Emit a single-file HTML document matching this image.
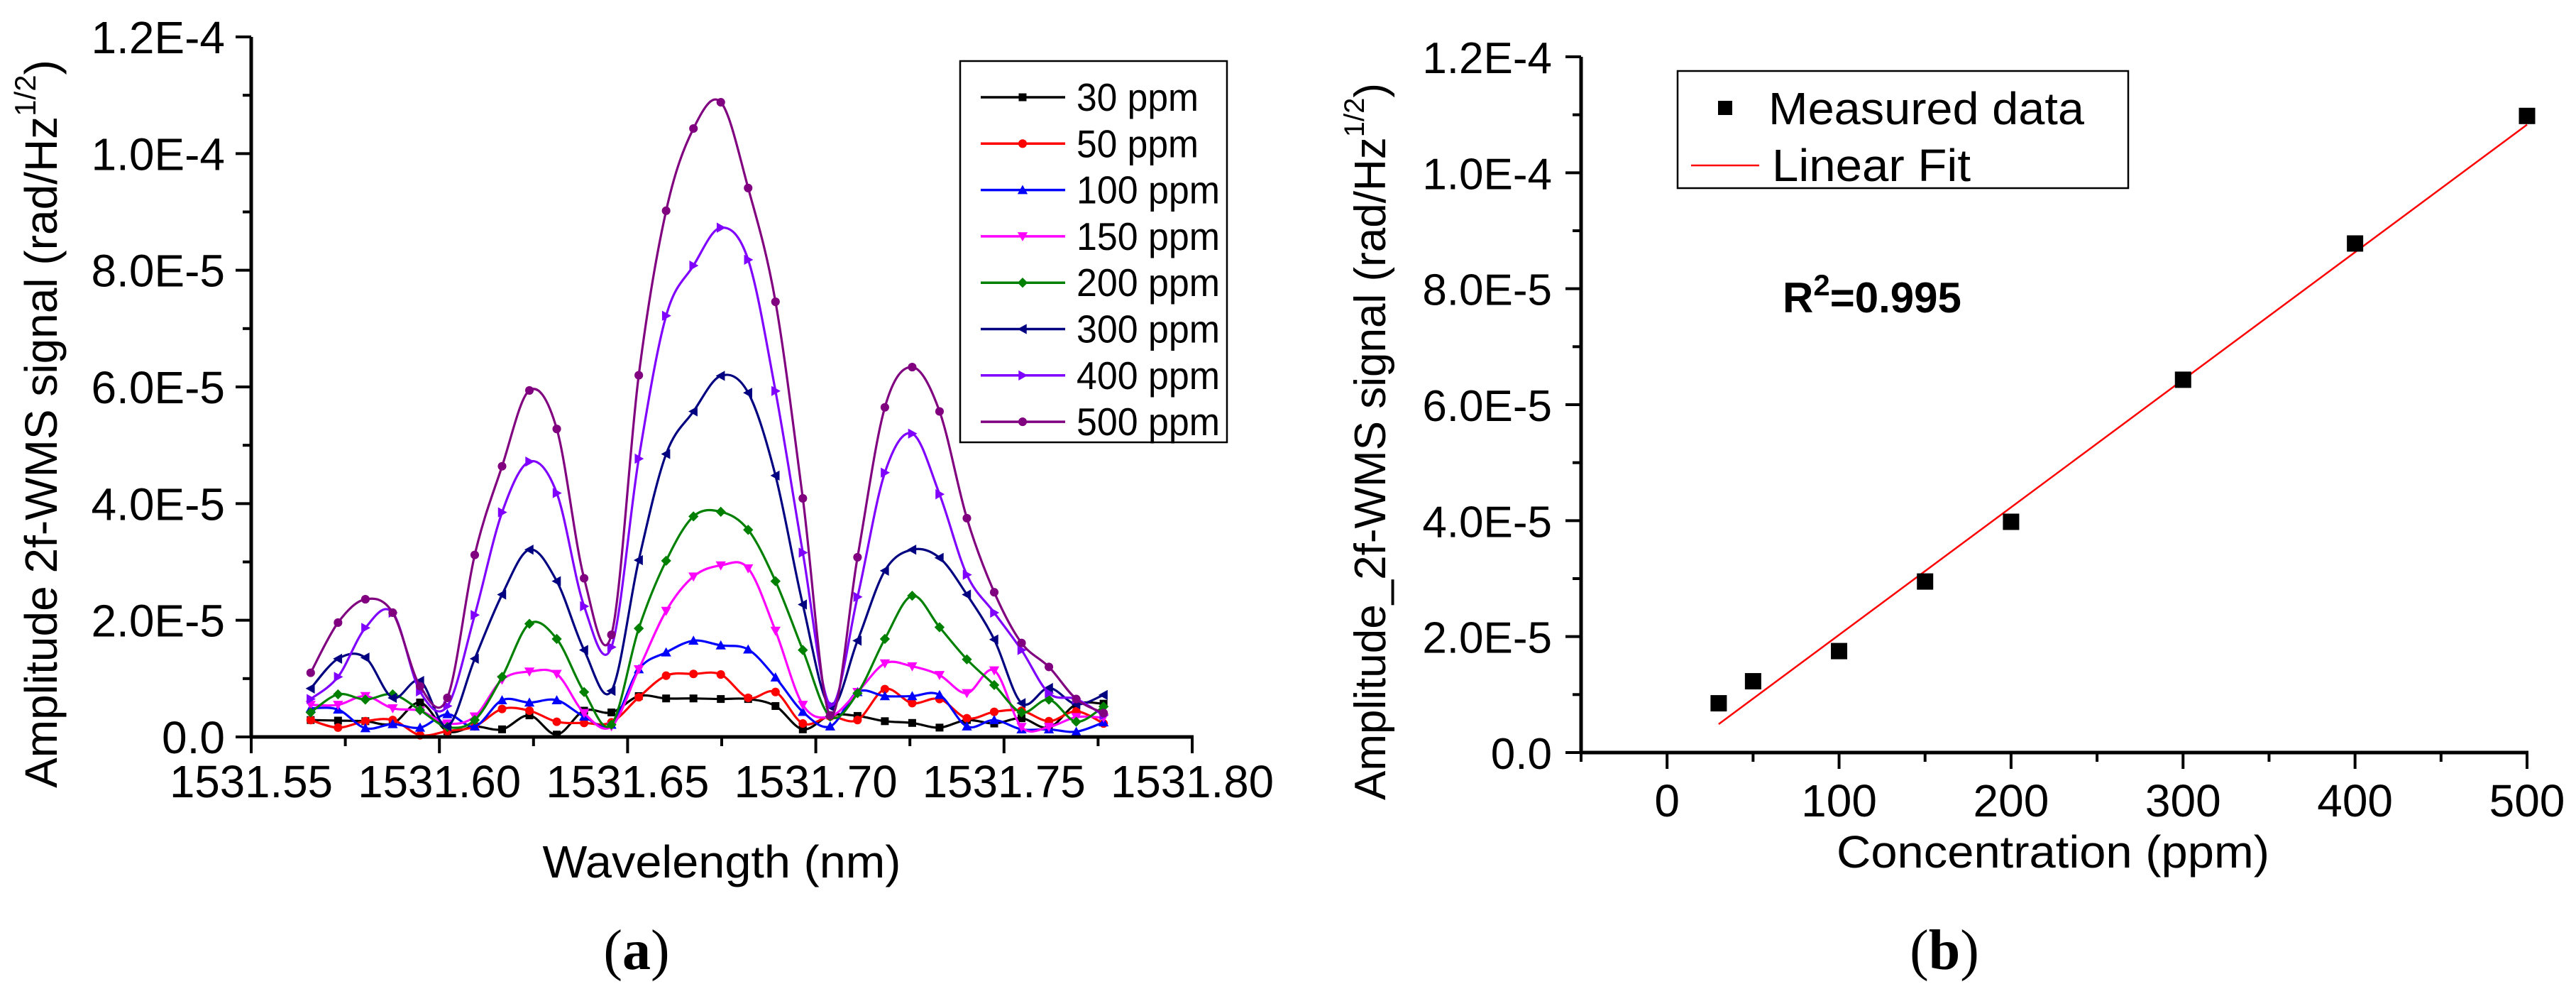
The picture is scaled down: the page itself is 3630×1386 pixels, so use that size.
<!DOCTYPE html>
<html><head><meta charset="utf-8">
<style>
html,body{margin:0;padding:0;background:#fff;}
svg{display:block;}
text{font-family:"Liberation Sans",Arial,sans-serif;fill:#000;}
</style></head>
<body>
<svg id="fig" xmlns="http://www.w3.org/2000/svg" width="3630" height="1386" viewBox="0 0 3630 1386">
<rect width="3630" height="1386" fill="#fff"/>
<g id="chartA"></g>
<g id="chartB"></g>
</svg>
<script>
// ---------- Chart (a) data ----------
const seriesNames = ["30 ppm","50 ppm","100 ppm","150 ppm","200 ppm","300 ppm","400 ppm","500 ppm"];
const seriesColors = ["#000000","#ff0000","#0000ff","#ff00ff","#008000","#000080","#8000ff","#800080"];
const seriesMarkers = ["square","circle","up","down","diamond","left","right","circle"];
const wlStart = 1531.5658;
const wlStep = 0.007264;
const s30  = [2.9,2.8,2.7,2.3,5.9,1.0,1.8,1.3,3.7,0.4,4.5,4.2,7.0,6.6,6.6,6.5,6.5,5.3,1.3,3.7,3.6,2.7,2.4,1.6,2.9,2.3,3.2,1.6,5.6,5.7];
const s50  = [2.9,1.6,2.7,2.9,0.3,1.0,1.8,4.8,4.5,2.6,2.4,2.5,6.8,10.5,10.8,10.7,6.7,7.7,2.3,3.5,2.9,8.2,5.8,6.5,3.2,4.3,4.5,2.7,4.4,2.3];
const s100 = [4.9,4.7,1.5,2.2,1.6,3.9,1.8,6.3,5.9,6.3,3.5,2.1,11.6,14.5,16.5,15.7,15.0,10.2,4.3,1.8,7.7,7.0,7.0,7.2,1.8,2.9,1.3,1.3,0.9,2.5];
const s150 = [5.5,5.5,7.0,4.9,4.5,2.3,3.5,9.8,11.2,10.8,4.1,1.8,11.6,21.6,27.5,29.4,28.9,18.2,5.5,3.5,7.7,12.6,12.1,10.6,7.5,11.4,1.7,1.7,3.4,3.3];
const s200 = [4.2,7.3,6.4,7.3,4.6,1.7,2.9,10.3,19.4,16.8,7.7,2.1,18.6,30.2,37.8,38.6,35.5,26.7,14.9,3.5,7.5,16.8,24.2,18.8,13.3,8.9,4.2,6.4,2.6,5.2];
const s300 = [8.3,13.4,13.6,6.7,9.6,1.8,13.4,24.4,32.1,26.7,14.9,7.9,30.3,48.5,55.8,61.9,59.0,44.8,22.7,5.2,16.5,28.5,32.1,30.7,24.4,16.7,5.8,8.4,5.6,7.2];
const s400 = [6.5,10.3,18.7,21.3,7.8,5.3,20.9,38.5,47.2,41.8,22.4,15.4,47.7,72.2,80.8,87.3,81.8,59.3,31.6,5.5,24.0,45.3,52.0,41.6,27.8,21.3,14.9,7.5,6.5,3.7];
const s500 = [11.0,19.6,23.6,21.3,8.7,6.7,31.2,46.4,59.4,52.8,27.2,17.5,62.0,90.2,104.3,108.8,94.1,74.6,40.9,3.7,30.8,56.5,63.4,55.8,37.5,24.8,16.1,12.0,6.5,4.1];
const seriesValues = [s30,s50,s100,s150,s200,s300,s400,s500];
const xTicksA = [1531.55,1531.60,1531.65,1531.70,1531.75,1531.80];
const xTickLabelsA = ["1531.55","1531.60","1531.65","1531.70","1531.75","1531.80"];
const yTicksA = [0,20,40,60,80,100,120];
const yTickLabelsA = ["0.0","2.0E-5","4.0E-5","6.0E-5","8.0E-5","1.0E-4","1.2E-4"];

// ---------- Chart (b) data ----------
const concentrations = [30,50,100,150,200,300,400,500];
const measured = [8.5,12.3,17.5,29.5,39.8,64.3,87.8,109.8];
const fitSlope = 0.22;
const fitIntercept = -1.7;
const fitRange = [30,500];
const xTicksB = [0,100,200,300,400,500];
const xTickLabelsB = ["0","100","200","300","400","500"];
const yTicksB = [0,20,40,60,80,100,120];
const yTickLabelsB = ["0.0","2.0E-5","4.0E-5","6.0E-5","8.0E-5","1.0E-4","1.2E-4"];

const NS = "http://www.w3.org/2000/svg";
function mk(parent, tag, attrs){
  const e = document.createElementNS(NS, tag);
  for (const k in attrs) e.setAttribute(k, attrs[k]);
  parent.appendChild(e);
  return e;
}

const A = {x0:354, x1:1680, y0:1038, y1:52, xmin:1531.55, xmax:1531.80, ymin:0, ymax:120};
function xa(v){ return A.x0 + (v - A.xmin)/(A.xmax - A.xmin)*(A.x1 - A.x0); }
function ya(v){ return A.y0 - (v - A.ymin)/(A.ymax - A.ymin)*(A.y0 - A.y1); }
const B = {x0:2228, x1:3561, y0:1060, y1:80, xmin:-50, xmax:500, ymin:0, ymax:120};
function xb(v){ return B.x0 + (v - B.xmin)/(B.xmax - B.xmin)*(B.x1 - B.x0); }
function yb(v){ return B.y0 - (v - B.ymin)/(B.ymax - B.ymin)*(B.y0 - B.y1); }

function smoothPath(pts){
  let d = "M" + pts[0][0].toFixed(1) + "," + pts[0][1].toFixed(1);
  for (let i=0;i<pts.length-1;i++){
    const p0 = pts[Math.max(0,i-1)], p1 = pts[i], p2 = pts[i+1], p3 = pts[Math.min(pts.length-1,i+2)];
    const c1x = p1[0] + (p2[0]-p0[0])/6, c1y = p1[1] + (p2[1]-p0[1])/6;
    const c2x = p2[0] - (p3[0]-p1[0])/6, c2y = p2[1] - (p3[1]-p1[1])/6;
    d += " C" + c1x.toFixed(1)+","+c1y.toFixed(1)+" "+c2x.toFixed(1)+","+c2y.toFixed(1)+" "+p2[0].toFixed(1)+","+p2[1].toFixed(1);
  }
  return d;
}
function marker(parent, type, x, y, r, color){
  let e;
  if (type==="square") e = mk(parent,"rect",{x:x-r,y:y-r,width:2*r,height:2*r,fill:color});
  else if (type==="circle") e = mk(parent,"circle",{cx:x,cy:y,r:r*1.1,fill:color});
  else {
    let p;
    const k = r*1.3;
    if (type==="up") p=[[x,y-k],[x+k,y+k*0.8],[x-k,y+k*0.8]];
    else if (type==="down") p=[[x,y+k],[x+k,y-k*0.8],[x-k,y-k*0.8]];
    else if (type==="left") p=[[x-k,y],[x+k*0.8,y-k],[x+k*0.8,y+k]];
    else if (type==="right") p=[[x+k,y],[x-k*0.8,y-k],[x-k*0.8,y+k]];
    else p=[[x,y-k],[x+k,y],[x,y+k],[x-k,y]];
    e = mk(parent,"polygon",{points:p.map(q=>q.join(",")).join(" "),fill:color});
  }
  return e;
}

// ================= Chart (a) =================
const ga = document.getElementById("chartA");
seriesValues.forEach((vals, si) => {
  const g = mk(ga,"g",{});
  
  
  const pts = vals.map((v,i)=>[xa(wlStart + i*wlStep), ya(v)]);
  const path = mk(g,"path",{d:smoothPath(pts),fill:"none",stroke:seriesColors[si],"stroke-width":3.2});
  
  
  pts.forEach((p,i)=>{
    const m = marker(g, seriesMarkers[si], p[0], p[1], 5.5, seriesColors[si]);
    
    
  });
});
const axA = mk(ga,"g",{});


mk(axA,"line",{x1:A.x0,y1:A.y0,x2:A.x1+2,y2:A.y0,stroke:"#000","stroke-width":5});
mk(axA,"line",{x1:A.x0,y1:A.y0+2,x2:A.x0,y2:A.y1,stroke:"#000","stroke-width":5});
for (let k=0; k<=10; k++){
  const v = 1531.55 + k*0.025;
  const major = k%2===0;
  mk(axA,"line",{x1:xa(v),y1:A.y0,x2:xa(v),y2:A.y0+(major?23:13),stroke:"#000","stroke-width":4});
}
xTicksA.forEach((v,i)=>{
  const t = mk(axA,"text",{x:xa(v),y:1123,"font-size":64,"text-anchor":"middle",textLength:230,lengthAdjust:"spacingAndGlyphs"});
  t.textContent = xTickLabelsA[i];
  
  
});
for (let v=0; v<=120; v+=10){
  const major = v%20===0;
  mk(axA,"line",{x1:A.x0,y1:ya(v),x2:A.x0-(major?22:12),y2:ya(v),stroke:"#000","stroke-width":4});
}
yTicksA.forEach((v,i)=>{
  const t = mk(axA,"text",{x:317,y:ya(v)+23,"font-size":64,"text-anchor":"end"});
  t.textContent = yTickLabelsA[i];
  
  
});
let t = mk(ga,"text",{x:1017,y:1236,"font-size":64,"text-anchor":"middle",textLength:505,lengthAdjust:"spacingAndGlyphs"});
t.textContent = "Wavelength (nm)";


t = mk(ga,"text",{x:0,y:0,"font-size":64,"text-anchor":"middle",transform:"translate(80,597) rotate(-90)"});
t.innerHTML = 'Amplitude 2f-WMS signal (rad/Hz<tspan font-size="42" dy="-30">1/2</tspan><tspan dy="30">)</tspan>';


t = mk(ga,"text",{x:897,y:1365,"font-size":80,"text-anchor":"middle",style:"font-family:'Liberation Serif',serif"});
t.innerHTML = '(<tspan font-weight="bold">a</tspan>)';


const lg = mk(ga,"g",{});


mk(lg,"rect",{x:1353,y:86,width:376,height:537,fill:"#fff",stroke:"#000","stroke-width":2.5});
seriesNames.forEach((n,i)=>{
  const y = 137 + i*65.3;
  const e = mk(lg,"g",{});
  
  
  mk(e,"line",{x1:1382,y1:y,x2:1501,y2:y,stroke:seriesColors[i],"stroke-width":3.5});
  marker(e, seriesMarkers[i], 1441, y, 5.5, seriesColors[i]);
  const tx = mk(e,"text",{x:1517,y:y+19,"font-size":55,textLength:(n.length===6?172:202),lengthAdjust:"spacingAndGlyphs"});
  tx.textContent = n;
});

// ================= Chart (b) =================
const gb = document.getElementById("chartB");
const axB = mk(gb,"g",{});


mk(axB,"line",{x1:B.x0,y1:B.y0,x2:B.x1+2,y2:B.y0,stroke:"#000","stroke-width":5});
mk(axB,"line",{x1:B.x0,y1:B.y0+2,x2:B.x0,y2:B.y1,stroke:"#000","stroke-width":5});
for (let v=-50; v<=500; v+=50){
  const major = v%100===0;
  mk(axB,"line",{x1:xb(v),y1:B.y0,x2:xb(v),y2:B.y0+(major?23:13),stroke:"#000","stroke-width":4});
}
xTicksB.forEach((v,i)=>{
  const tt = mk(axB,"text",{x:xb(v),y:1150,"font-size":64,"text-anchor":"middle"});
  tt.textContent = xTickLabelsB[i];
  
  
});
for (let v=0; v<=120; v+=10){
  const major = v%20===0;
  mk(axB,"line",{x1:B.x0,y1:yb(v),x2:B.x0-(major?22:12),y2:yb(v),stroke:"#000","stroke-width":4});
}
yTicksB.forEach((v,i)=>{
  const tt = mk(axB,"text",{x:2187,y:yb(v)+23,"font-size":62,"text-anchor":"end"});
  tt.textContent = yTickLabelsB[i];
  
  
});
const fl = mk(gb,"line",{x1:xb(fitRange[0]),y1:yb(fitSlope*fitRange[0]+fitIntercept),x2:xb(fitRange[1]),y2:yb(fitSlope*fitRange[1]+fitIntercept),stroke:"#ff0000","stroke-width":2.5});


concentrations.forEach((c,i)=>{
  const r = mk(gb,"rect",{x:xb(c)-11.5,y:yb(measured[i])-11.5,width:23,height:23,fill:"#000"});
  
  
});
t = mk(gb,"text",{x:2893,y:1222,"font-size":64,"text-anchor":"middle",textLength:610,lengthAdjust:"spacingAndGlyphs"});
t.textContent = "Concentration (ppm)";


t = mk(gb,"text",{x:0,y:0,"font-size":62,"text-anchor":"middle",transform:"translate(1952,622) rotate(-90)"});
t.innerHTML = 'Amplitude_2f-WMS signal (rad/Hz<tspan font-size="40" dy="-30">1/2</tspan><tspan dy="30">)</tspan>';


t = mk(gb,"text",{x:2740,y:1365,"font-size":80,"text-anchor":"middle",style:"font-family:'Liberation Serif',serif"});
t.innerHTML = '(<tspan font-weight="bold">b</tspan>)';


t = mk(gb,"text",{x:2512,y:440,"font-size":60,"font-weight":"bold"});
t.innerHTML = 'R<tspan font-size="42" dy="-24">2</tspan><tspan dy="24">=0.995</tspan>';


const lb = mk(gb,"g",{});


mk(lb,"rect",{x:2364,y:100,width:635,height:165,fill:"#fff",stroke:"#000","stroke-width":2.5});
const le1 = mk(lb,"g",{});


mk(le1,"rect",{x:2421,y:142,width:20,height:20,fill:"#000"});
let lt = mk(le1,"text",{x:2492,y:175,"font-size":64,textLength:445,lengthAdjust:"spacingAndGlyphs"});
lt.textContent = "Measured data";
const le2 = mk(lb,"g",{});


mk(le2,"line",{x1:2383,y1:233,x2:2479,y2:233,stroke:"#ff0000","stroke-width":2.5});
lt = mk(le2,"text",{x:2497,y:255,"font-size":64,textLength:280,lengthAdjust:"spacingAndGlyphs"});
lt.textContent = "Linear Fit";
</script>
</body></html>
